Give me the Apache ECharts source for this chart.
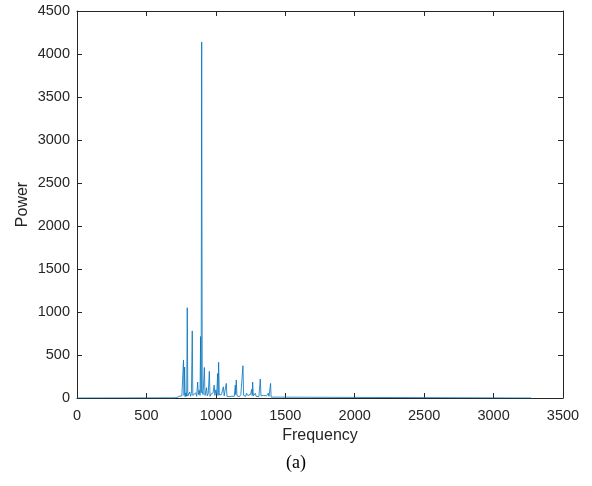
<!DOCTYPE html>
<html>
<head>
<meta charset="utf-8">
<script src="https://cdn.jsdelivr.net/npm/echarts@6/dist/echarts.min.js"></script>
<style>
  html, body { margin: 0; padding: 0; background: #fff; }
  #chart { width: 592px; height: 486px; }
</style>
</head>
<body>
<div id="chart"></div>
<script>
// Power spectrum samples: frequency (x) and power (y)
const frequency = [
  0, 700, 720, 735, 745, 755, 762, 767, 771, 775, 779, 785, 790, 794, 798,
  805, 812, 818, 824, 830, 834, 840, 848, 855, 862, 869, 874, 880, 886, 890,
  894, 898, 902, 908, 913, 917, 922, 928, 933, 938, 945, 953, 958, 965, 972,
  980, 988, 993, 1000, 1006, 1013, 1016, 1020, 1025, 1032, 1040, 1047, 1054, 1060, 1068,
  1075, 1080, 1088, 1095, 1106, 1115, 1125, 1133, 1140, 1143, 1147, 1152, 1160, 1170, 1180,
  1188, 1195, 1200, 1208, 1215, 1221, 1230, 1240, 1250, 1258, 1262, 1265, 1270, 1278, 1284,
  1290, 1300, 1310, 1320, 1325, 1335, 1343, 1349, 1357, 1365, 1372, 1377, 1383, 1390, 1394,
  1398, 1410, 3270
];
const power = [
  0, 2, 5, 20, 8, 25, 12, 440, 30, 360, 15, 60, 20, 1050, 25,
  40, 70, 20, 55, 780, 30, 45, 25, 60, 20, 185, 40, 90, 30, 715,
  60, 4140, 80, 40, 60, 355, 30, 70, 120, 25, 50, 310, 20, 45, 30,
  60, 150, 30, 95, 40, 285, 30, 415, 35, 25, 40, 20, 130, 25, 40,
  170, 20, 35, 15, 35, 20, 30, 20, 150, 40, 210, 25, 30, 15, 40,
  25, 375, 30, 45, 20, 55, 30, 20, 40, 100, 30, 185, 25, 35, 55,
  20, 30, 15, 220, 25, 20, 30, 35, 15, 25, 30, 55, 20, 40, 170,
  10, 2, 0
];
const xTicks = [0, 500, 1000, 1500, 2000, 2500, 3000, 3500];
const yTicks = [0, 500, 1000, 1500, 2000, 2500, 3000, 3500, 4000, 4500];

const axisColor = '#262626';
const labelFont = { fontFamily: 'Liberation Sans, Arial, sans-serif', fontSize: 14.5, color: '#262626' };
const plain = v => String(v);

const chart = echarts.init(document.getElementById('chart'), null, { renderer: 'canvas' });

function xAxisDef(pos, showLabels) {
  return {
    type: 'value',
    position: pos,
    min: xTicks[0],
    max: xTicks[xTicks.length - 1],
    interval: xTicks[1] - xTicks[0],
    axisLine: { show: true, onZero: false, lineStyle: { color: axisColor, width: 1 } },
    axisTick: { show: true, inside: true, length: 5, lineStyle: { color: axisColor } },
    axisLabel: Object.assign({ show: showLabels, margin: 10, formatter: plain }, labelFont),
    splitLine: { show: false },
    name: showLabels ? 'Frequency' : '',
    nameLocation: 'middle',
    nameGap: 30,
    nameMoveOverlap: false,
    nameTextStyle: { fontFamily: 'Liberation Sans, Arial, sans-serif', fontSize: 16, color: '#262626' }
  };
}
function yAxisDef(pos, showLabels) {
  return {
    type: 'value',
    position: pos,
    min: yTicks[0],
    max: yTicks[yTicks.length - 1],
    interval: yTicks[1] - yTicks[0],
    axisLine: { show: true, onZero: false, lineStyle: { color: axisColor, width: 1 } },
    axisTick: { show: true, inside: true, length: 5, lineStyle: { color: axisColor } },
    axisLabel: Object.assign({ show: showLabels, margin: 7, formatter: plain }, labelFont),
    splitLine: { show: false },
    name: showLabels ? 'Power' : '',
    nameLocation: 'middle',
    nameGap: 46,
    nameMoveOverlap: false,
    nameTextStyle: { fontFamily: 'Liberation Sans, Arial, sans-serif', fontSize: 16, color: '#262626' }
  };
}

chart.setOption({
  animation: false,
  backgroundColor: '#ffffff',
  title: {
    text: '(a)',
    left: 'center',
    top: 449,
    textStyle: { fontFamily: 'Liberation Serif, Times New Roman, serif', fontSize: 18, fontWeight: 'normal', color: '#000' }
  },
  grid: { left: 77, right: 29, top: 11, bottom: 88 },
  xAxis: [xAxisDef('bottom', true), xAxisDef('top', false)],
  yAxis: [yAxisDef('left', true), yAxisDef('right', false)],
  series: [{
    type: 'line',
    xAxisIndex: 0,
    yAxisIndex: 0,
    data: frequency.map((f, i) => [f, power[i]]),
    showSymbol: false,
    symbol: 'none',
    lineStyle: { color: '#0072BD', width: 0.8 },
    z: 1
  }]
});
</script>
</body>
</html>
